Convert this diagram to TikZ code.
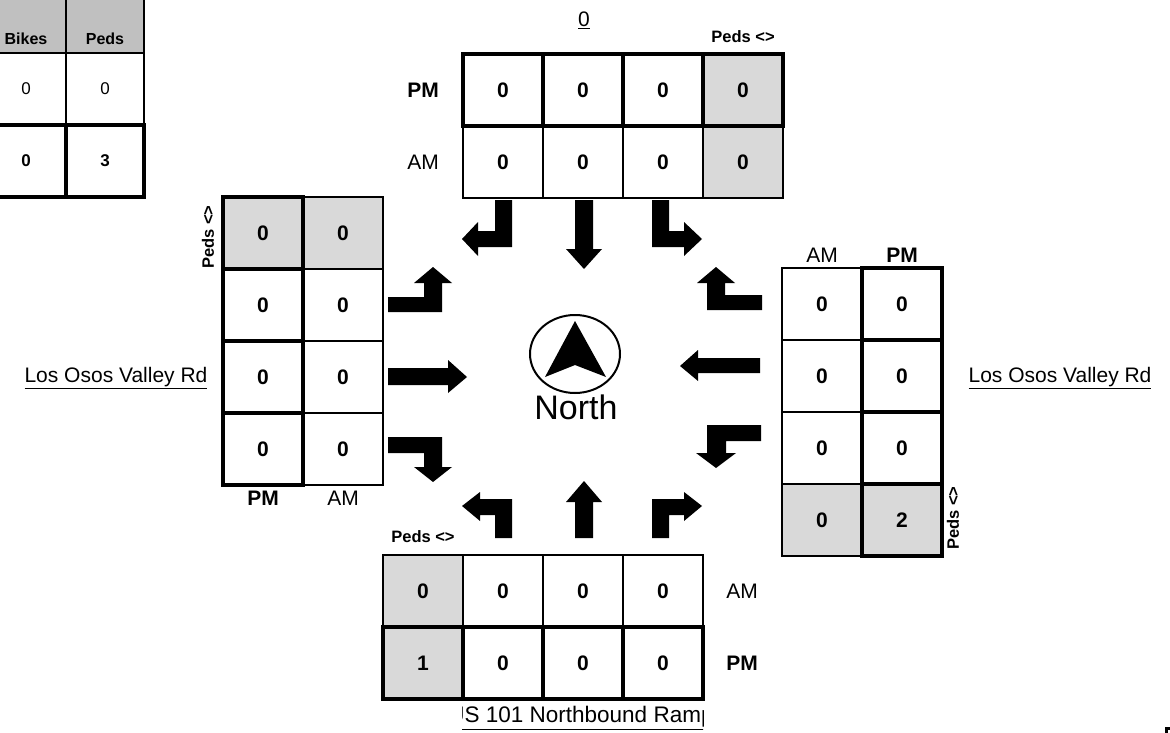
\documentclass[tikz,border=0pt]{standalone}
\usepackage{fontspec}
\setmainfont{Liberation Sans}
\definecolor{pedgray}{HTML}{D9D9D9}
\definecolor{headgray}{HTML}{C0C0C0}
\tikzset{cell/.style={draw, line width=2pt, minimum width=80pt,
  minimum height=72pt, inner sep=0pt, font=\bfseries\fontsize{21}{25}\selectfont},
  pmcell/.style={cell, line width=4pt},
  ped/.style={fill=pedgray},
  sumcell/.style={draw, line width=2.5pt, minimum width=79pt,
  minimum height=72pt, inner sep=0pt, font=\fontsize{17}{20}\selectfont},
  lbl/.style={inner sep=1pt, font=\fontsize{21}{25}\selectfont},
  pedlbl/.style={inner sep=1pt, font=\bfseries\fontsize{16.5}{19}\selectfont},
  road/.style={inner sep=1pt, font=\fontsize{21}{25}\selectfont},
  blk/.style={fill=black}}

\begin{document}
\begin{tikzpicture}[x=1pt, y=-1pt]
  \useasboundingbox (0,0) rectangle (1170,733);
  \clip (0,0) rectangle (1170,733);
  % totals table, top left
  \node[sumcell, fill=headgray, minimum width=80pt, text height=56pt,
    font=\bfseries\fontsize{16}{19}\selectfont] (hbike) at (26,17) {Bikes};
  \node[sumcell, fill=headgray, minimum width=78pt, text height=56pt,
    font=\bfseries\fontsize{16}{19}\selectfont] (hped) at (105,17) {Peds};
  \node[sumcell, minimum width=80pt] (amBike) at (26,89)  {0};
  \node[sumcell, minimum width=78pt] (amPed)  at (105,89) {0};
  \node[sumcell, line width=4.5pt, minimum width=80pt,
    font=\bfseries\fontsize{17}{20}\selectfont] (pmBike) at (26,161)  {0};
  \node[sumcell, line width=4.5pt, minimum width=78pt,
    font=\bfseries\fontsize{17}{20}\selectfont] (pmPed)  at (105,161) {3};

  % north leg
  \node[road] (nroad) at (584,20) {\underline{0}};
  \node[pedlbl] (nped) at (743,37) {Peds <>};
  \node[cell] (nAM1) at (503,162) {0};
  \node[cell] (nAM2) at (583,162) {0};
  \node[cell] (nAM3) at (663,162) {0};
  \node[cell, ped] (nAM4) at (743,162) {0};
  \node[pmcell] (nPM1) at (503,90) {0};
  \node[pmcell] (nPM2) at (583,90) {0};
  \node[pmcell] (nPM3) at (663,90) {0};
  \node[pmcell, ped] (nPM4) at (743,90) {0};
  \node[lbl, font=\bfseries\fontsize{21}{25}\selectfont] (npm) at (423,90) {PM};
  \node[lbl] (nam) at (423,162) {AM};

  % west leg
  \node[road] (wroad) at (116,378) {\underline{Los Osos Valley Rd}};
  \node[pedlbl, rotate=90] (wped) at (208,237) {Peds <>};
  \node[cell, ped] (wAM1) at (343,233) {0};
  \node[cell] (wAM2) at (343,305) {0};
  \node[cell] (wAM3) at (343,377) {0};
  \node[cell] (wAM4) at (343,449) {0};
  \node[pmcell, ped] (wPM1) at (263,233) {0};
  \node[pmcell] (wPM2) at (263,305) {0};
  \node[pmcell] (wPM3) at (263,377) {0};
  \node[pmcell] (wPM4) at (263,449) {0};
  \node[lbl, font=\bfseries\fontsize{21}{25}\selectfont] (wpm) at (263,498) {PM};
  \node[lbl] (wam) at (343,498) {AM};

  % east leg
  \node[road] (eroad) at (1060,378) {\underline{Los Osos Valley Rd}};
  \node[pedlbl, rotate=90] (eped) at (953,518) {Peds <>};
  \node[cell] (eAM1) at (822,304) {0};
  \node[cell] (eAM2) at (822,376) {0};
  \node[cell] (eAM3) at (822,448) {0};
  \node[cell, ped] (eAM4) at (822,520) {0};
  \node[pmcell] (ePM1) at (902,304) {0};
  \node[pmcell] (ePM2) at (902,376) {0};
  \node[pmcell] (ePM3) at (902,448) {0};
  \node[pmcell, ped] (ePM4) at (902,520) {2};
  \node[lbl] (eam) at (822,255) {AM};
  \node[lbl, font=\bfseries\fontsize{21}{25}\selectfont] (epm) at (902,255) {PM};

  % south leg
  \node[pedlbl] (sped) at (423,537) {Peds <>};
  \node[cell, ped] (sAM1) at (423,591) {0};
  \node[cell] (sAM2) at (503,591) {0};
  \node[cell] (sAM3) at (583,591) {0};
  \node[cell] (sAM4) at (663,591) {0};
  \node[pmcell, ped] (sPM1) at (423,663) {1};
  \node[pmcell] (sPM2) at (503,663) {0};
  \node[pmcell] (sPM3) at (583,663) {0};
  \node[pmcell] (sPM4) at (663,663) {0};
  \node[lbl] (sam) at (742,591) {AM};
  \node[lbl, font=\bfseries\fontsize{21}{25}\selectfont] (spm) at (742,663) {PM};
  \begin{scope}
    \clip (462,700) rectangle (703,733);
    \node[road, font=\fontsize{22.5}{27}\selectfont] (sroad) at (581,718)
      {\underline{US 101 Northbound Ramp}};
  \end{scope}

  % movement arrows
  \fill[blk] (495,200) -- (512,200) -- (512,247) -- (478,247) -- (478,256)
    -- (462,239) -- (478,222) -- (478,231) -- (495,231) -- cycle;
  \fill[blk] (575,200) -- (593,200) -- (593,249) -- (602,249) -- (584,269)
    -- (566,249) -- (575,249) -- cycle;
  \fill[blk] (652,200) -- (669,200) -- (669,231) -- (684,231) -- (684,222)
    -- (702,239) -- (684,256) -- (684,247) -- (652,247) -- cycle;
  \fill[blk] (388,297) -- (424,297) -- (424,283) -- (414,283) -- (433,267)
    -- (452,283) -- (442,283) -- (442,312) -- (388,312) -- cycle;
  \fill[blk] (388,368) -- (448,368) -- (448,360) -- (467,377) -- (448,393)
    -- (448,385) -- (388,385) -- cycle;
  \fill[blk] (388,437) -- (442,437) -- (442,467) -- (452,467) -- (433,482)
    -- (414,467) -- (424,467) -- (424,453) -- (388,453) -- cycle;
  \fill[blk] (762,295) -- (725,295) -- (725,283) -- (735,283) -- (716,267)
    -- (697,283) -- (707,283) -- (707,310) -- (762,310) -- cycle;
  \fill[blk] (760,358) -- (698,358) -- (698,350) -- (680,366) -- (698,381)
    -- (698,373) -- (760,373) -- cycle;
  \fill[blk] (761,425) -- (707,425) -- (707,453) -- (696,453) -- (716,468)
    -- (736,453) -- (726,453) -- (726,441) -- (761,441) -- cycle;
  \fill[blk] (512,538) -- (512,499) -- (480,499) -- (480,492) -- (462,506)
    -- (480,521) -- (480,515) -- (495,515) -- (495,538) -- cycle;
  \fill[blk] (575,538) -- (575,502) -- (566,502) -- (584,481) -- (602,502)
    -- (593,502) -- (593,538) -- cycle;
  \fill[blk] (652,538) -- (652,499) -- (684,499) -- (684,492) -- (702,506)
    -- (684,521) -- (684,515) -- (669,515) -- (669,538) -- cycle;

  % north sign
  \draw[line width=2pt] (575,354) ellipse [x radius=45pt, y radius=39pt];
  \fill[blk] (575,321) -- (606,377) -- (575,365) -- (545,377) -- cycle;
  \node[inner sep=1pt, font=\fontsize{34}{40}\selectfont] (north) at (576,407) {North};

  % edge of a box cut by the page
  \draw[line width=2.5pt] (1166.5,735) |- (1172,728.5);
\end{tikzpicture}
\end{document}
